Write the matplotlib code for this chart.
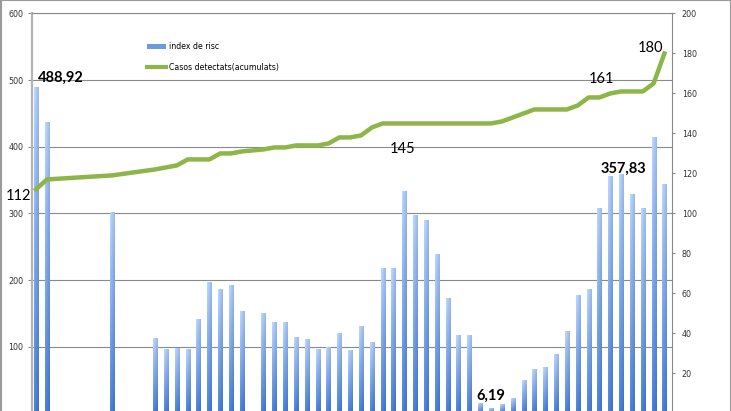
import numpy as np
import matplotlib
matplotlib.use("Agg")
import matplotlib.pyplot as plt
from matplotlib.patches import Patch
from matplotlib.lines import Line2D

nan = np.nan

# index de risc per dia (buit = sense dada)
risc = [488.92, 436, nan, nan, nan, nan, nan, 301, nan, nan, nan,
        112, 95, 97, 96, 140, 196, 186, 191, 152, nan,
        150, 136, 136, 114, 111, 95, 99, 120, 94, 130, 106,
        217, 217, 333, 297, 289, 238, 172, 116, 116,
        15, 6.19, 12.5, 21.5, 49, 66, 68, 88, 123, 176, 186,
        307, 355, 357.83, 328, 307, 414, 343]

# casos detectats acumulats
casos = [112, 117, nan, nan, nan, nan, nan, 119, nan, nan, nan,
         122, 123, 124, 127, 127, 127, 130, 130, 131, nan,
         132, 133, 133, 134, 134, 134, 135, 138, 138, 139, 143,
         145, 145, 145, 145, 145, 145, 145, 145, 145,
         145, 145, 146, 148, 150, 152, 152, 152, 152, 154, 158,
         158, 160, 161, 161, 161, 165, 180]

risc_labels = ["index de risc", "Casos detectats(acumulats)"]

risc = np.array(risc, dtype=float)
casos = np.array(casos, dtype=float)
x = np.arange(len(risc))

W, H = 731, 411
fig = plt.figure(figsize=(W / 100, H / 100), dpi=100)
ax = fig.add_axes([32 / W, (H - 413.3) / H, 640 / W, (413.3 - 13.5) / H])

grid_col = "#8a8a8a"
bar_col = "#6d9ae3"
line_col = "#8eb548"

# bars, then a gradient laid over each one
bars = ax.bar(x, np.nan_to_num(risc), width=0.38, color=bar_col, zorder=2)
light = np.array([0.68, 0.79, 0.96])
dark = np.array([0.27, 0.48, 0.82])
t = np.linspace(1, 0, 64)[:, None, None]
h = np.linspace(1.08, 0.92, 8)[None, :, None]
grad = np.clip((dark + (light - dark) * t) * h, 0, 1)
for r in bars:
    if r.get_height() > 0:
        ax.imshow(grad, extent=(r.get_x(), r.get_x() + r.get_width(), 0, r.get_height()),
                  aspect="auto", interpolation="bilinear", zorder=2.1)

ax.set_xlim(-0.37, 58.7)
ax.set_ylim(0, 600)
ax.set_yticks(range(100, 601, 100))
ax.set_xticks([])
ax.grid(axis="y", color=grid_col, lw=0.8)
ax.set_axisbelow(True)
ax.spines["bottom"].set_visible(False)
ax.spines["right"].set_visible(False)
ax.spines["top"].set_color(grid_col)
ax.spines["top"].set_linewidth(0.8)
ax.spines["left"].set_color("#b4b4b4")
ax.spines["left"].set_linewidth(1.6)
ax.tick_params(axis="y", length=3, width=0.8, color=grid_col, labelsize=5.8,
               pad=3.3, labelcolor="#333333")

ax2 = ax.twinx()
ok = ~np.isnan(casos)
ax2.plot(x[ok], casos[ok], color=line_col, lw=3.2, zorder=5)
ax2.set_ylim(0, 200)
ax2.set_yticks(range(20, 201, 20))
ax2.set_xlim(-0.37, 58.7)
for s in ["top", "bottom", "left"]:
    ax2.spines[s].set_visible(False)
ax2.spines["right"].set_color(grid_col)
ax2.spines["right"].set_linewidth(0.8)
ax2.tick_params(axis="y", length=2.5, width=0.8, color=grid_col, labelsize=5.8,
                pad=4.6, labelcolor="#333333")

# data labels
lab = dict(family="Lato", color="black", ha="center", va="center", clip_on=False)
ax.text(2.26, 503.7, "488,92", fontsize=10.5, fontweight="bold", **lab)
ax.text(54.2, 367, "357,83", fontsize=10.5, fontweight="bold", **lab)
ax.text(42.0, 26, "6,19", fontsize=10.5, fontweight="bold", **lab)
ax2.text(-1.66, 108.6, "112", fontsize=10.5, **lab)
ax2.text(33.8, 132, "145", fontsize=10.5, **lab)
ax2.text(52.2, 167, "161", fontsize=10.5, **lab)
ax2.text(56.7, 182.6, "180", fontsize=10.5, **lab)

handles = [Patch(facecolor=bar_col), Line2D([], [], color=line_col, lw=3)]
fig.legend(handles, risc_labels, loc="upper left", bbox_to_anchor=(147 / W, 1 - 42 / H),
           frameon=False, fontsize=5.6, handlelength=2.44, handleheight=0.6,
           handletextpad=0.4, labelspacing=1.5, borderpad=0, borderaxespad=0)

# frame round the picture (bottom is cut off in the original)
fig.add_artist(Line2D([0.5 / W, 0.5 / W, 1 - 0.5 / W, 1 - 0.5 / W], [0, 1 - 0.5 / H, 1 - 0.5 / H, 0],
                      transform=fig.transFigure, color="#9a9a9a", lw=1.5))

fig.savefig("out.png", dpi=100)
